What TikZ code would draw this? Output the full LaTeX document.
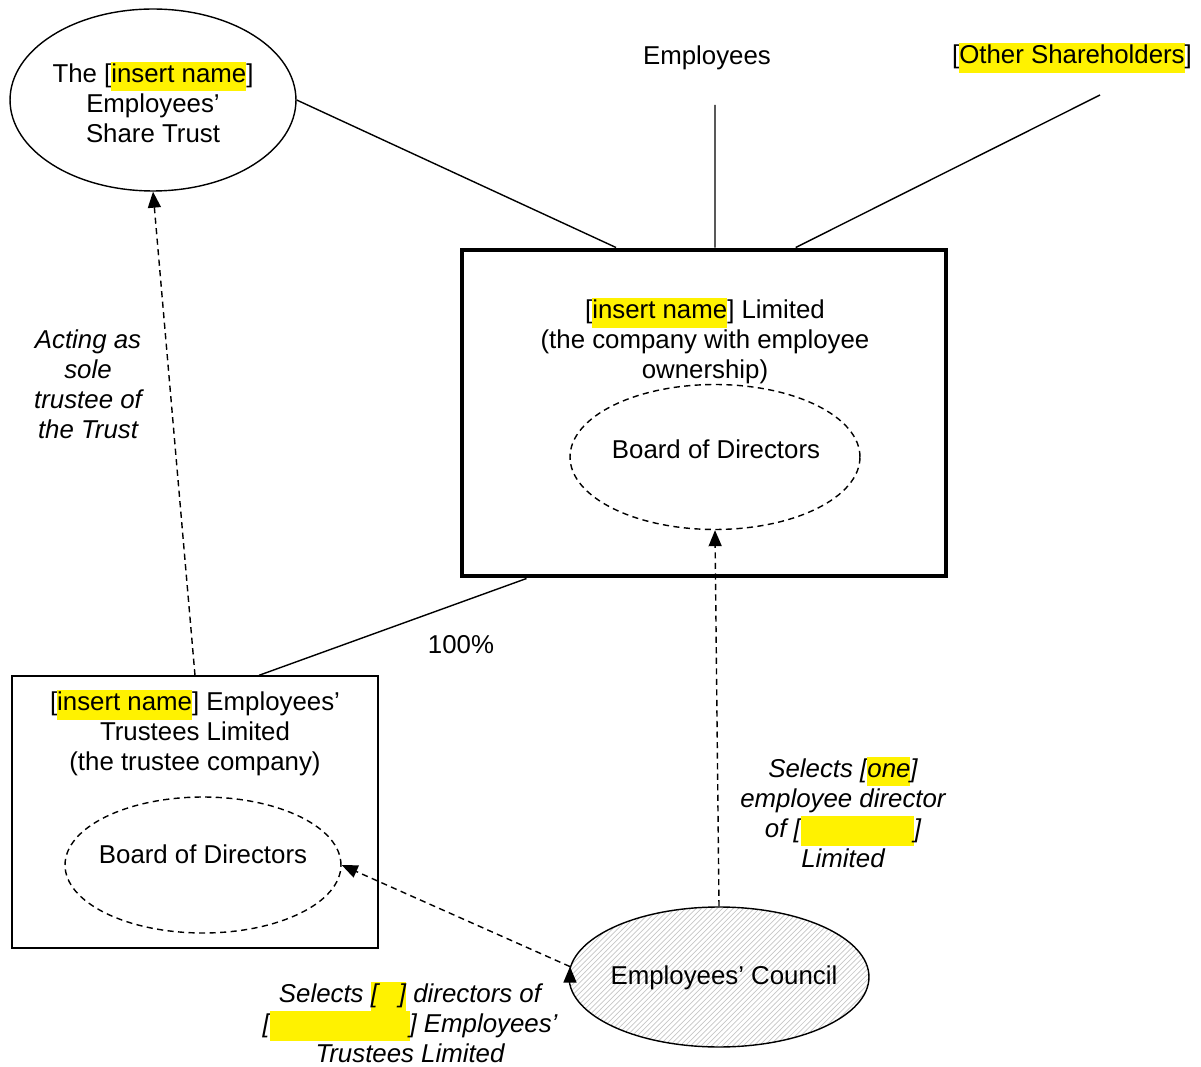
\documentclass[tikz,border=0pt]{standalone}
\usepackage{fontspec}
\setmainfont{Liberation Sans}
\usepackage{tikz}
\usetikzlibrary{arrows.meta}
\usetikzlibrary{calc}
\usetikzlibrary{patterns}
\usetikzlibrary{positioning}
\usetikzlibrary{shapes.geometric}

\newcommand{\hlname}[1]{{\setlength{\fboxsep}{0pt}\colorbox{yellow}{\strut #1}}}
\newcommand{\hlgap}[1]{{\setlength{\fboxsep}{0pt}\colorbox{yellow}{\strut\hspace{#1}}}}

\begin{document}
\begin{tikzpicture}[x=0.02cm,y=-0.02cm,
    font=\fontsize{14.7}{17}\selectfont,
    line width=0.8pt,
    oval/.style={draw,ellipse,inner sep=0pt},
    board/.style={oval,dash pattern=on 3.5pt off 2.5pt},
    link/.style={draw,dash pattern=on 3.5pt off 2.5pt,-{Triangle[length=0.32cm,width=0.26cm]}},
    note/.style={align=center,font=\fontsize{14.7}{17}\selectfont\itshape}]

  \useasboundingbox (0,0) rectangle (1201,1067);

  % owners
  \node [oval,minimum width=5.72cm,minimum height=3.64cm] (trust) at (153,100) {};
  \node [align=center] (trust_txt) at (153,102) {The [\hlname{insert name}]\\Employees'\\Share Trust};
  \node (employees) at (707,58) {Employees};
  \node (others) at (1072,58) {[\hlname{Other Shareholders}]};
  \coordinate (employees_end) at (715,105);
  \coordinate (others_end) at (1100,95);

  % company
  \node [draw,line width=2.3pt,minimum width=9.68cm,minimum height=6.54cm] (company) at (704,413) {};
  \node [align=center] (company_txt) at (705,341) {[\hlname{insert name}] Limited\\(the company with employee\\ownership)};
  \node [board,minimum width=5.8cm,minimum height=2.9cm] (company_board) at (715,457) {};
  \node (company_board_txt) at (716,449) {Board of Directors};

  % trustee company
  \node [draw,minimum width=7.32cm,minimum height=5.44cm] (trustee) at (195,812) {};
  \node [align=center] (trustee_txt) at (195,733) {[\hlname{insert name}] Employees'\\Trustees Limited\\(the trustee company)};
  \node [board,minimum width=5.52cm,minimum height=2.72cm] (trustee_board) at (203,865) {};
  \node (trustee_board_txt) at (203,854) {Board of Directors};

  % council
  \node [oval,pattern=north east lines,pattern color=gray!45,minimum width=6cm,minimum height=2.8cm] (council) at (719,977) {};
  \node (council_txt) at (724,978) {Employees' Council};

  % labels
  \node [note] (acting) at (88,384) {Acting as\\sole\\trustee of\\the Trust};
  \node (share) at (461,645) {100\%};
  \node [note] (selects_one) at (843,812) {Selects [\hlname{one}]\\employee director\\of [\hlgap{2.26cm}]\\Limited};
  \node [note] (selects_dirs) at (410,1022) {Selects \hlname{[\hspace{0.42cm}]} directors of\\{}[\hlgap{2.8cm}] Employees'\\Trustees Limited};

  \path [draw]
    (trust.east)    -- (company.118)
    (employees_end) -- (employees_end |- company.north)
    (others_end)    -- (company.61)
    (company.223)   -- ($(trustee.north)+(64,0)$);

  \path [link]
    (trustee.north)  edge (trust.south)
    (council.north)  edge (company_board.south)
    (council.176)    edge (trustee_board.east);

\end{tikzpicture}
\end{document}
